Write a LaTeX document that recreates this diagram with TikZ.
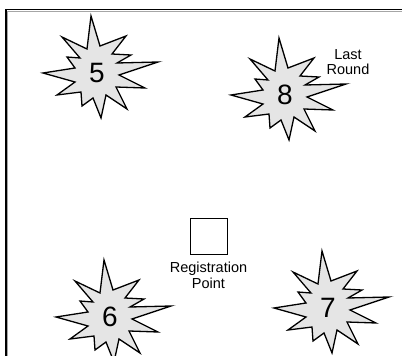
\documentclass[tikz,border=0pt]{standalone}
\usepackage{fontspec}
\setmainfont{Liberation Sans}
\tikzset{
  burst/.style={draw=black, line width=1.3pt, fill=black!10, line join=miter},
  digit/.style={font=\fontsize{28}{28}\selectfont, inner sep=0pt},
  label/.style={font=\fontsize{14.5}{15.5}\selectfont, align=center, inner sep=0pt},
  frameline/.style={line width=1.6pt, black},
  frameshade/.style={line width=1pt, black!35}
}
\newcommand{\burstpath}[1]{%
  \draw[burst, shift={#1}]
    (-6,-57) -- (3,-27) -- (29,-37) -- (15,-19) -- (34,-18) -- (20,-10)
    -- (61,-11) -- (22,2) -- (48,15) -- (19,14) -- (30,36) -- (9,22)
    -- (4,45) -- (-4,25) -- (-15,33) -- (-16,19) -- (-40,22) -- (-22,9)
    -- (-54,0) -- (-22,-5) -- (-30,-16) -- (-17,-15) -- (-35,-36) -- (-10,-24)
    -- cycle;}
\begin{document}
\begin{tikzpicture}[x=1pt, y=-1pt]
  \useasboundingbox (0,0) rectangle (402,356);
  % frame
  \coordinate (tl) at (6,9.5);
  \coordinate (tr) at (402,9.5);
  \coordinate (bl) at (6,356);
  \draw[frameshade] (7.5,11) -- (402,11);
  \draw[frameshade] (7.5,11) -- (7.5,356);
  \draw[frameline] (tr) -- (tl) -- (bl);
  % bursts
  \burstpath{(97,73)}
  \burstpath{(285,95)}
  \burstpath{(110,317)}
  \burstpath{(328,308)}
  \node[digit] (n5) at (97,73) {5};
  \node[digit] (n8) at (285,95) {8};
  \node[digit] (n6) at (110,317) {6};
  \node[digit] (n7) at (328,308) {7};
  % last round
  \node[label] (last) at (348,62) {Last\\Round};
  % registration point
  \node[draw=black, line width=0.9pt, minimum width=37pt, minimum height=36pt, inner sep=0pt] (reg) at (208.5,236.5) {};
  \node[label, anchor=north] (regtext) at (208.5,262) {Registration\\Point};
\end{tikzpicture}
\end{document}
